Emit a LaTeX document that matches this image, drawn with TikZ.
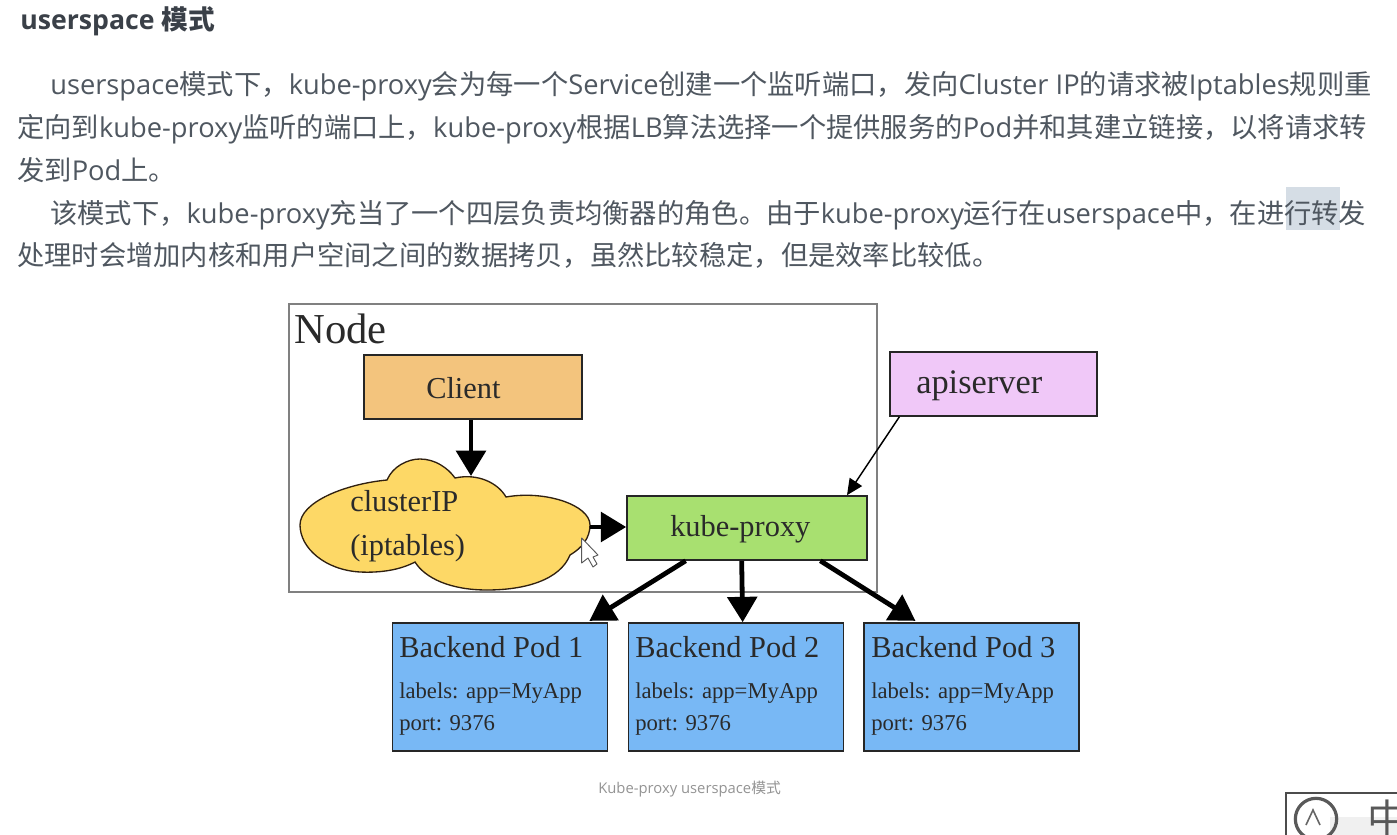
\documentclass[tikz,border=0pt]{standalone}
\usepackage{fontspec}
\usetikzlibrary{arrows.meta}
\setmainfont{Open Sans}
\newfontfamily\cjk{Noto Sans CJK SC}
\newfontfamily\tms{Liberation Serif}
\definecolor{bodytext}{HTML}{4F5760}
\definecolor{titletext}{HTML}{3A4048}
\definecolor{serif}{HTML}{2A2A2A}
\definecolor{podfill}{HTML}{78B8F5}
\definecolor{clientfill}{HTML}{F3C47D}
\definecolor{apifill}{HTML}{F0C8F8}
\definecolor{kubefill}{HTML}{A8E070}
\definecolor{cloudfill}{HTML}{FDD866}
\definecolor{hilite}{HTML}{D5DDE5}
\tikzset{
  body/.style={anchor=base west,inner sep=0pt,text=bodytext,font=\fontsize{20.46}{22}\selectfont},
  box/.style={draw=black!85,line width=1.2pt,inner sep=0pt},
  lbl/.style={anchor=base west,inner sep=0pt,text=serif},
  heavy/.style={line width=3.6pt,-{Triangle[width=22pt,length=19pt]}},
  thin arrow/.style={line width=1.1pt,-{Triangle[width=11pt,length=12pt]}},
  podbox/.style={box,fill=podfill,minimum width=161pt,minimum height=96pt},
  big/.style={font=\tms\fontsize{22.8}{24}\selectfont},
  small/.style={font=\tms\fontsize{17}{18}\selectfont},
}
\begin{document}
\begin{tikzpicture}[x=.75pt,y=-.75pt]
\useasboundingbox (0,0) rectangle (1397,835);
\clip (0,0) rectangle (1397,835);
\fill[white] (0,0) rectangle (1397,835);
% highlight
\fill[hilite] (1286,187) rectangle (1340,230);
% text
\node[body,text=titletext,font=\bfseries\fontsize{20}{22}\selectfont] (title) at (20,29) {userspace {\cjk 模式}};
\node[body] (l1) at (50,94) {userspace{\cjk 模式下，}kube-proxy{\cjk 会为每一个}Service{\cjk 创建一个监听端口，发向}Cluster IP{\cjk 的请求被}Iptables{\cjk 规则重}};
\node[body] (l2) at (17,137) {{\cjk 定向到}kube-proxy{\cjk 监听的端口上，}kube-proxy{\cjk 根据}LB{\cjk 算法选择一个提供服务的}Pod{\cjk 并和其建立链接，以将请求转}};
\node[body] (l3) at (17,180) {{\cjk 发到}Pod{\cjk 上。}};
\node[body] (l4) at (50,223) {{\cjk 该模式下，}kube-proxy{\cjk 充当了一个四层负责均衡器的角色。由于}kube-proxy{\cjk 运行在}userspace{\cjk 中，在进行转发}};
\node[body] (l5) at (17,265) {{\cjk 处理时会增加内核和用户空间之间的数据拷贝，虽然比较稳定，但是效率比较低。}};
% node frame
\node[draw=black!50,line width=.9pt,minimum width=441pt,minimum height=216pt,inner sep=0pt] (frame) at (583,448) {};
\node[lbl,font=\tms\fontsize{32}{34}\selectfont] (nodelbl) at (294,343) {Node};
% boxes
\node[box,fill=clientfill,minimum width=163.5pt,minimum height=48pt] (client) at (473,387) {};
\node[lbl,big] (clientlbl) at (426,398) {Client};
\node[box,fill=apifill,minimum width=155pt,minimum height=48pt] (api) at (993.5,384) {};
\node[lbl,font=\tms\fontsize{25.8}{28}\selectfont] (apilbl) at (916,393) {apiserver};
\node[box,fill=kubefill,minimum width=180pt,minimum height=48pt] (kube) at (747,528) {};
\node[lbl,big] (kubelbl) at (670,536) {kube-proxy};
% cloud
\draw[draw=black!75!brown,line width=1pt,fill=cloudfill]
  (300,525) .. controls (300,502) and (345,484) .. (387,480)
  .. controls (393,466) and (408,459) .. (420,459)
  .. controls (435,459) and (448,468) .. (455,478)
  .. controls (478,473) and (498,483) .. (506,497)
  .. controls (545,490) and (590,505) .. (590,525)
  .. controls (590,538) and (582,548) .. (570,555)
  .. controls (560,580) and (525,590) .. (487,590)
  .. controls (450,590) and (425,578) .. (415,562)
  .. controls (400,570) and (380,573) .. (360,572)
  .. controls (325,570) and (300,548) .. (300,525) -- cycle;
\coordinate (cloudtop) at (471,476);
\coordinate (cloudright) at (590,527);
\node[lbl,big] (ciplbl) at (350,511) {clusterIP};
\node[lbl,big] (iptlbl) at (350,555) {(iptables)};
% pods
\node[podbox] (pod1) at (500,687) {};
\node[podbox] (pod2) at (736,687) {};
\node[podbox] (pod3) at (971.5,687) {};
\foreach \n/\x/\k in {a/399/1,b/635/2,c/871/3}{
  \node[lbl,big] (pod\n t) at (\x,657) {Backend Pod \k};
  \node[lbl,small] (pod\n l) at (\x,698) {labels: app=MyApp};
  \node[lbl,small] (pod\n p) at (\x,730) {port: 9376};
}
% connectors
\draw[heavy] ([xshift=-1.5pt]client.south) -- (cloudtop);
\draw[heavy] (cloudright) -- (kube.west |- cloudright);
\draw[heavy] ([xshift=-46pt]kube.south) -- ([xshift=67pt,yshift=1pt]pod1.north);
\draw[heavy] ([xshift=-4pt]kube.south) -- ([xshift=5pt]pod2.north);
\draw[heavy] ([xshift=55pt]kube.south) -- ([xshift=-42pt,yshift=1pt]pod3.north);
\draw[thin arrow] ([xshift=7.5pt]api.south west) -- ([xshift=75pt]kube.north);
% cursor
\draw[draw=black!65,line width=.7pt,fill=white,line join=round] (581.7,538) -- (581.7,563) -- (588,558) -- (593,567) -- (597,564) -- (593,557) -- (598,555) -- cycle;
% caption
\node[anchor=base west,inner sep=0pt,text=black!42,font=\fontsize{11.1}{12}\selectfont] (caption) at (598,793) {Kube-proxy userspace{\cjk 模式}};
% corner widget
\fill[black!6] (1330,817) rectangle (1397,835);
\draw[draw=black!70,line width=1pt] (1286,835) |- (1397,793);
\draw[black!65,line width=2.4pt] (1316,819) circle[radius=15.5pt];
\draw[black!60,line width=1.2pt] (1306,825) -- (1313,810) -- (1320,825);
\node[anchor=base west,inner sep=0pt,text=black!65,font=\cjk\fontsize{30}{32}\selectfont] (zh) at (1367,833) {中};
\end{tikzpicture}
\end{document}
